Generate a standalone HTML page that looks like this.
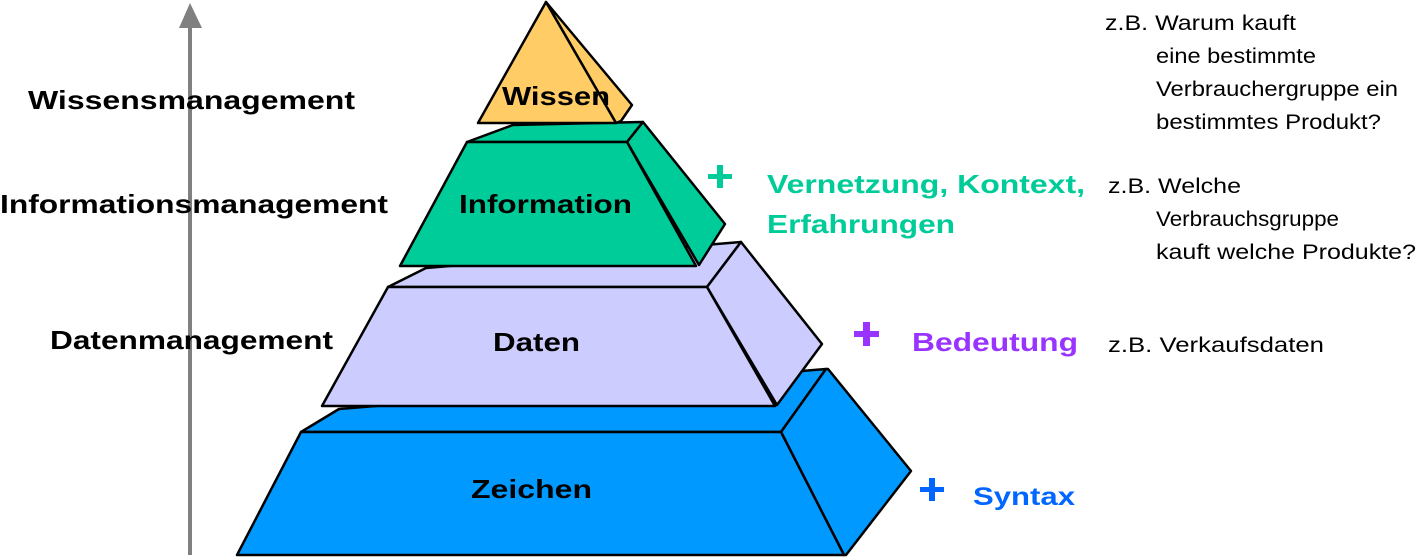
<!DOCTYPE html>
<html><head><meta charset="utf-8"><style>
html,body{margin:0;padding:0;background:#fff;}
svg{display:block;}
text{font-family:"Liberation Sans",Arial,sans-serif;}
.l{font-weight:bold;font-size:26px;fill:#000;}
.r{font-size:21px;fill:#000;}
</style></head><body>
<svg width="1417" height="557" viewBox="0 0 1417 557" xmlns="http://www.w3.org/2000/svg">
<line x1="190" y1="555" x2="190" y2="25" stroke="#808080" stroke-width="4"/>
<polygon points="190,3 179,28 202,28" fill="#808080"/>
<text class="l" x="28" y="109" textLength="327" lengthAdjust="spacingAndGlyphs">Wissensmanagement</text>
<text class="l" x="0" y="213" textLength="388" lengthAdjust="spacingAndGlyphs">Informationsmanagement</text>
<text class="l" x="50" y="349" textLength="283" lengthAdjust="spacingAndGlyphs">Datenmanagement</text>
<g stroke="#000" stroke-width="2.5" stroke-linejoin="round">
<polygon points="339,409 826,369 781,432 301,432" fill="#0099ff"/>
<polygon points="781,432 826,369 828,369 911,471 846,555 844,555" fill="#0099ff"/>
<polygon points="301,432 781,432 844,555 237,555" fill="#0099ff"/>
<polygon points="426,268 741,242 707,287 388,287" fill="#ccccff"/>
<polygon points="707,287 741,242 822,344 777,405" fill="#ccccff"/>
<polygon points="388,287 707,287 775,406 322,406" fill="#ccccff"/>
<polygon points="513,125 643,122 627,142 467,142" fill="#00cc99"/>
<polygon points="627,142 643,122 725,224 699,265" fill="#00cc99"/>
<polygon points="467,142 627,142 696,266 400,266" fill="#00cc99"/>
<polygon points="546,2 632,105 621,121 616,123" fill="#ffcc66"/>
<polygon points="546,2 616,123 478,123" fill="#ffcc66"/>
</g>
<text class="l" x="502" y="105" textLength="108" lengthAdjust="spacingAndGlyphs">Wissen</text>
<text class="l" x="459" y="213" textLength="173" lengthAdjust="spacingAndGlyphs">Information</text>
<text class="l" x="493" y="351" textLength="87" lengthAdjust="spacingAndGlyphs">Daten</text>
<text class="l" x="471" y="498" textLength="121" lengthAdjust="spacingAndGlyphs">Zeichen</text>
<g fill="#00cc99"><rect x="708" y="174" width="24" height="5"/><rect x="717" y="165" width="6" height="23"/></g>
<text x="767" y="193" font-size="26" font-weight="bold" fill="#00cc99" textLength="318" lengthAdjust="spacingAndGlyphs">Vernetzung, Kontext,</text>
<text x="767" y="233" font-size="26" font-weight="bold" fill="#00cc99" textLength="188" lengthAdjust="spacingAndGlyphs">Erfahrungen</text>
<g fill="#9933ff"><rect x="854" y="331" width="25" height="6"/><rect x="863" y="322" width="7" height="24"/></g>
<text x="912" y="351" font-size="26" font-weight="bold" fill="#9933ff" textLength="166" lengthAdjust="spacingAndGlyphs">Bedeutung</text>
<g fill="#0066ff"><rect x="920" y="487" width="24" height="5"/><rect x="929" y="478" width="6" height="23"/></g>
<text x="973" y="505" font-size="25" font-weight="bold" fill="#0066ff" textLength="102" lengthAdjust="spacingAndGlyphs">Syntax</text>
<text class="r" x="1105" y="30" textLength="191" lengthAdjust="spacingAndGlyphs">z.B. Warum kauft</text>
<text class="r" x="1156" y="63" textLength="160" lengthAdjust="spacingAndGlyphs">eine bestimmte</text>
<text class="r" x="1156" y="96" textLength="242" lengthAdjust="spacingAndGlyphs">Verbrauchergruppe ein</text>
<text class="r" x="1156" y="129" textLength="225" lengthAdjust="spacingAndGlyphs">bestimmtes Produkt?</text>
<text class="r" x="1108" y="193" textLength="133" lengthAdjust="spacingAndGlyphs">z.B. Welche</text>
<text class="r" x="1156" y="226" textLength="183" lengthAdjust="spacingAndGlyphs">Verbrauchsgruppe</text>
<text class="r" x="1156" y="259" textLength="260" lengthAdjust="spacingAndGlyphs">kauft welche Produkte?</text>
<text class="r" x="1108" y="352" textLength="216" lengthAdjust="spacingAndGlyphs">z.B. Verkaufsdaten</text>
</svg>
</body></html>
